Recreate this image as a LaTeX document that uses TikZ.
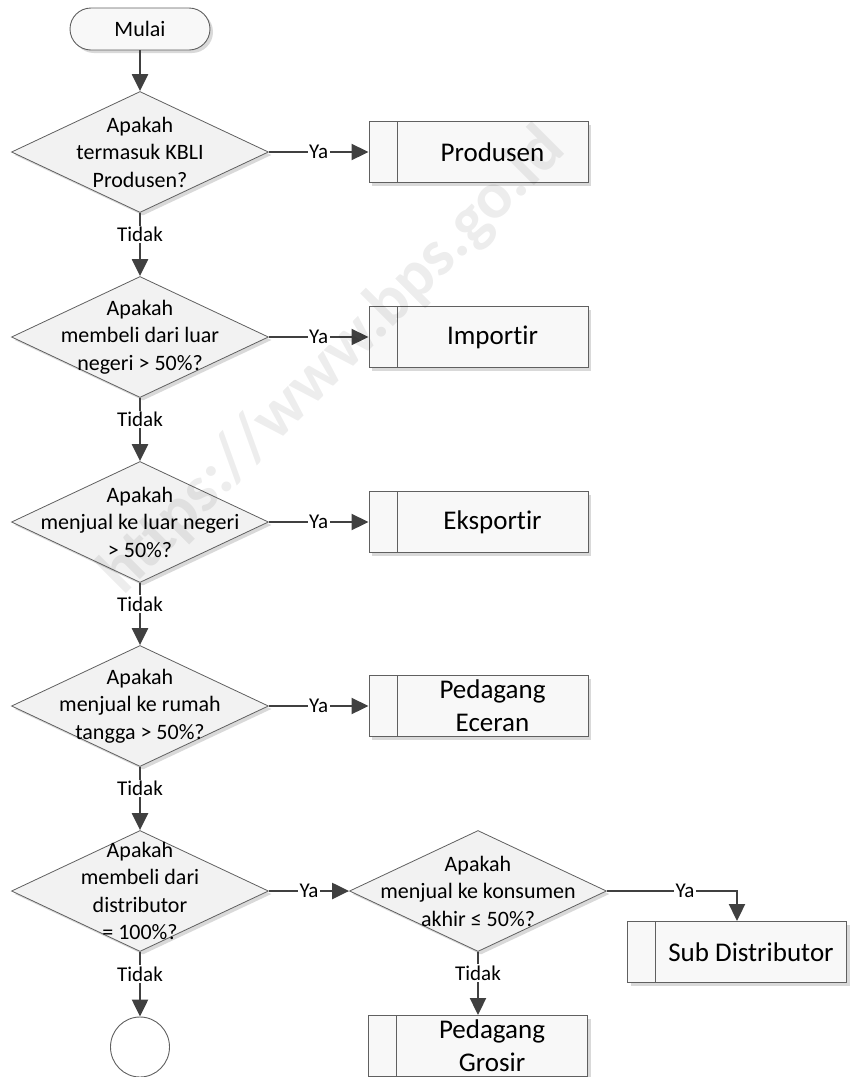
\documentclass[tikz,border=0pt]{standalone}
\usepackage{fontspec}
\setmainfont{Carlito}[Ligatures=NoCommon]
\usetikzlibrary{arrows.meta,shapes.geometric,shapes.misc,shadows}

\definecolor{edgecol}{HTML}{404040}
\definecolor{outline}{HTML}{606060}
\definecolor{dfill}{HTML}{F2F2F2}
\definecolor{bfill}{HTML}{F8F8F8}
\definecolor{shade}{HTML}{D9D9D9}

% box text: offset right of the inner bar of the predefined-process box
\newcommand{\proctext}[1]{\hspace*{28pt}\parbox{191pt}{\centering #1}}

\tikzset{
  shd/.style={drop shadow={shadow xshift=3pt,shadow yshift=-3pt,fill=shade,opacity=1}},
  terminal/.style={rounded rectangle, draw=outline, line width=0.9pt, fill=bfill,
    minimum width=140pt, minimum height=42pt, inner sep=0pt,
    font=\fontsize{22}{26}\selectfont, shd},
  decision/.style={diamond, draw=outline, line width=0.8pt, fill=dfill,
    minimum width=257pt, minimum height=121pt, inner sep=0pt, shd},
  qtext/.style={font=\fontsize{22}{27.5}\selectfont, align=center, inner sep=0pt},
  procbox/.style={rectangle, draw=outline, line width=1pt, fill=bfill,
    minimum width=219pt, minimum height=61pt, inner sep=0pt,
    font=\fontsize{27}{33}\selectfont, shd,
    path picture={\draw[outline, line width=1pt]
      ([xshift=28pt]path picture bounding box.north west) --
      ([xshift=28pt]path picture bounding box.south west);}},
  endcircle/.style={ellipse, draw=outline, line width=0.9pt, fill=white,
    minimum width=59pt, minimum height=60pt, inner sep=0pt},
  flow/.style={draw=edgecol, line width=2.3pt, -{Triangle[length=17pt,width=16pt]}},
  lbl/.style={fill=white, inner sep=1.5pt, font=\fontsize{21}{25}\selectfont},
  watermark/.style={rotate=45, font=\fontsize{66}{70}\selectfont\bfseries,
    text=black, text opacity=0.07, inner sep=0pt}
}

\begin{document}
\begin{tikzpicture}[x=1pt,y=-1pt]
\useasboundingbox (0,0) rectangle (850,1077);

% start
\node[terminal] (m) at (140,29) {Mulai};

% decision column
\node[decision, label={[qtext]center:{Apakah\\termasuk KBLI\\Produsen?}}] (d1) at (140,152) {};
\node[decision, label={[qtext]center:{Apakah\\membeli dari luar\\negeri > 50\%?}}] (d2) at (140,337) {};
\node[decision, label={[qtext]center:{Apakah\\menjual ke luar negeri\\> 50\%?}}] (d3) at (140,522) {};
\node[decision, label={[qtext]center:{Apakah\\menjual ke rumah\\tangga > 50\%?}}] (d4) at (140,706) {};
\node[decision, label={[qtext]center:{Apakah\\membeli dari\\distributor\\= 100\%?}}] (d5) at (140,891) {};
\node[decision, label={[qtext]center:{Apakah\\menjual ke konsumen\\akhir ≤ 50\%?}}] (d6) at (478,891) {};

% outcome boxes
\node[procbox] (b1) at (478.5,152) {\proctext{Produsen}};
\node[procbox] (b2) at (478.5,337) {\proctext{Importir}};
\node[procbox] (b3) at (478.5,522) {\proctext{Eksportir}};
\node[procbox] (b4) at (478.5,706) {\proctext{Pedagang\\Eceran}};
\node[procbox] (b5) at (478,1046) {\proctext{Pedagang\\Grosir}};
\node[procbox, minimum width=218pt] (b6) at (737,952) {\proctext{Sub Distributor}};

% end connector
\node[endcircle] (e) at (140,1047) {};

% flow lines
\draw[flow] (m.south) -- (d1.north);
\draw[flow] (d1.south) -- node[lbl,pos=0.34]{Tidak} (d2.north);
\draw[flow] (d2.south) -- node[lbl,pos=0.34]{Tidak} (d3.north);
\draw[flow] (d3.south) -- node[lbl,pos=0.34]{Tidak} (d4.north);
\draw[flow] (d4.south) -- node[lbl,pos=0.34]{Tidak} (d5.north);
\draw[flow] (d5.south) -- node[lbl,pos=0.34]{Tidak} (e.north);
\draw[flow] (d6.south) -- node[lbl,pos=0.34]{Tidak} (b5.north);

\draw[flow] (d1.east) -- node[lbl]{Ya} (b1.west);
\draw[flow] (d2.east) -- node[lbl]{Ya} (b2.west);
\draw[flow] (d3.east) -- node[lbl]{Ya} (b3.west);
\draw[flow] (d4.east) -- node[lbl]{Ya} (b4.west);
\draw[flow] (d5.east) -- node[lbl]{Ya} (d6.west);
\draw[flow] (d6.east) -| node[lbl,pos=0.3]{Ya} (b6.north);

% site watermark
\node[watermark] (wm) at (333,362) {https://www.bps.go.id};
\end{tikzpicture}
\end{document}
